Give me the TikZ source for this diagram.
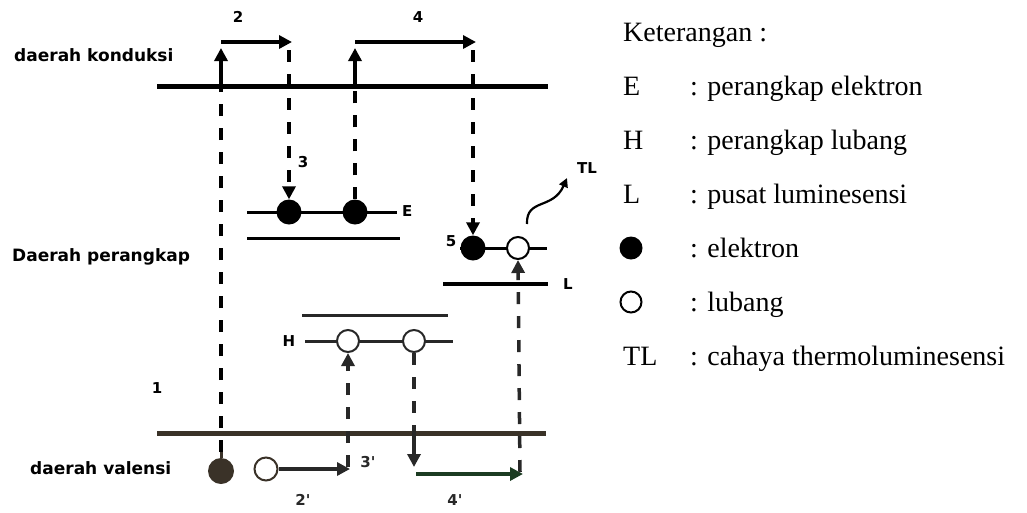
\documentclass[tikz,border=0pt]{standalone}
\usepackage{fontspec}
\setmainfont{Liberation Serif}
\newfontfamily\labfont{DejaVu Sans}
\usetikzlibrary{arrows.meta}
\definecolor{valcol}{RGB}{58,50,40}
\definecolor{greencol}{RGB}{28,60,34}
\definecolor{darkg}{RGB}{40,40,40}
\begin{document}
\begin{tikzpicture}[x=1pt,y=-1pt,
  band/.style={line width=5pt},
  lev/.style={line width=3pt},
  dline/.style={line width=3.5pt, dash pattern=on 12pt off 12pt},
  tip/.style={-{Triangle[width=13pt,length=13pt]}},
  solidarr/.style={line width=3.5pt, tip},
  elec/.style={circle, fill=black, minimum size=25pt, inner sep=0pt},
  hole/.style={circle, draw=black, line width=2pt, fill=white, minimum size=22pt, inner sep=0pt},
  lbl/.style={font=\labfont\bfseries\fontsize{17}{18}\selectfont, inner sep=0pt, anchor=west},
  num/.style={font=\labfont\bfseries\fontsize{15}{16}\selectfont, inner sep=0pt},
  leg/.style={font=\fontsize{28}{30}\selectfont, inner sep=0pt, anchor=base west},
]
\useasboundingbox (0,0) rectangle (1027,512);
% bands
\coordinate (cbL) at (157,86); \coordinate (cbR) at (548,86);
\coordinate (vbL) at (157,433); \coordinate (vbR) at (546,433);
\draw[band] (cbL) -- (cbR);
\draw[band,draw=valcol] (vbL) -- (vbR);
% electron trap E
\coordinate (eL) at (247,212); \coordinate (eR) at (397,212);
\coordinate (eL2) at (247,238); \coordinate (eR2) at (400,238);
\draw[lev] (eL) -- (eR);
\draw[lev] (eL2) -- (eR2);
% luminescence centre L
\coordinate (lL) at (460,248); \coordinate (lR) at (547,248);
\coordinate (lL2) at (443,284); \coordinate (lR2) at (548,284);
\draw[lev] (lL) -- (lR);
\draw[line width=4pt] (lL2) -- (lR2);
% hole trap H
\coordinate (hL0) at (302,315); \coordinate (hR0) at (448,315);
\coordinate (hL) at (305,341); \coordinate (hR) at (453,341);
\draw[lev,draw=darkg] (hL0) -- (hR0);
\draw[lev,draw=darkg] (hL) -- (hR);
% particles
\node[elec] (e1) at (289,212) {};
\node[elec] (e2) at (355,212) {};
\node[elec] (e3) at (473,248) {};
\node[hole] (h3) at (518,248) {};
\node[hole,draw=darkg] (h1) at (348,341) {};
\node[hole,draw=darkg] (h2) at (414,341) {};
\node[elec,fill=valcol,minimum width=24pt,minimum height=26pt] (ve) at (221,471) {};
\coordinate (vestub) at (221,452);
\draw[line width=3pt,draw=valcol] (ve.north) -- (vestub);
\node[hole,draw=valcol,minimum size=23pt] (vh) at (266,469) {};
% transition 1 -> 2 -> 3
\coordinate (a1b) at (221,86); \coordinate (a1t) at (221,48);
\coordinate (a2s) at (221,42); \coordinate (a2e) at (292,42);
\coordinate (a3s) at (289,50);
\draw[dline] (vestub) -- (a1b);
\draw[solidarr] (a1b) -- (a1t);
\draw[solidarr] (a2s) -- (a2e);
\draw[dline,tip] (a3s) -- (e1.north);
% transition 4 -> 5
\coordinate (a4b) at (355,86); \coordinate (a4t) at (355,48);
\coordinate (a5s) at (355,42); \coordinate (a5e) at (476,42);
\coordinate (a6s) at (473,50);
\draw[dline] (e2.north) -- (a4b);
\draw[solidarr] (a4b) -- (a4t);
\draw[solidarr] (a5s) -- (a5e);
\draw[dline,tip] (a6s) -- (e3.north);
% TL emission
\coordinate (tlA) at (527,224); \coordinate (tlB) at (567,178);
\draw[line width=2.2pt,-{Triangle[width=9pt,length=9pt]}] (tlA) .. controls (526,198) and (553,210) .. (tlB);
% hole transitions 2' 3'
\coordinate (b2e) at (350,469);
\draw[line width=3.2pt,draw=darkg,-{Triangle[width=13pt,length=13pt]}] (vh.east) -- (b2e);
\coordinate (b3s) at (348,467);
\draw[dline,draw=darkg,tip] (b3s) -- (h1.south);
% hole transitions 4' and recombination
\coordinate (b4a) at (414,433); \coordinate (b4b) at (414,467);
\draw[dline,draw=darkg] (h2.south) -- (b4a);
\draw[solidarr,draw=darkg] (b4a) -- (b4b);
\coordinate (g1) at (416,474); \coordinate (g2) at (523,474);
\draw[solidarr,line width=4pt,draw=greencol] (g1) -- (g2);
\coordinate (b5s) at (520,472);
\draw[dline,draw=darkg,tip] (b5s) -- (h3.south);
% labels in diagram
\node[lbl] (tcb) at (14,55) {daerah konduksi};
\node[lbl] (ttr) at (12,257) {Daerah perangkap};
\node[lbl] (tvb) at (30,468) {daerah valensi};
\node[num] (n2) at (238,17) {2};
\node[num] (n4) at (418,17) {4};
\node[num] (n3) at (303,162) {3};
\node[num,anchor=west] (nE) at (402,211) {E};
\node[num] (n5) at (451,241) {5};
\node[num] (nTL) at (587,168) {TL};
\node[num] (nL) at (568,284) {L};
\node[num] (nH) at (289,341) {H};
\node[num] (n1) at (157,388) {1};
\node[num,text=darkg] (n3p) at (368,462) {3'};
\node[num,text=darkg] (n2p) at (303,500) {2'};
\node[num,text=darkg] (n4p) at (455,500) {4'};
% legend
\node[leg] (kt) at (623,41) {Keterangan :};
\node[leg] (kE) at (623,95) {E};
\node[leg] (dE) at (690,95) {: perangkap elektron};
\node[leg] (kH) at (623,149) {H};
\node[leg] (dH) at (690,149) {: perangkap lubang};
\node[leg] (kL) at (623,203) {L};
\node[leg] (dL) at (690,203) {: pusat luminesensi};
\node[elec,minimum size=23pt] (ke) at (631,248) {};
\node[leg] (de) at (690,257) {: elektron};
\node[hole,minimum size=21pt] (kh) at (631,302) {};
\node[leg] (dh) at (690,311) {: lubang};
\node[leg] (kTL) at (623,365) {TL};
\node[leg] (dTL) at (690,365) {: cahaya thermoluminesensi};
\end{tikzpicture}
\end{document}
